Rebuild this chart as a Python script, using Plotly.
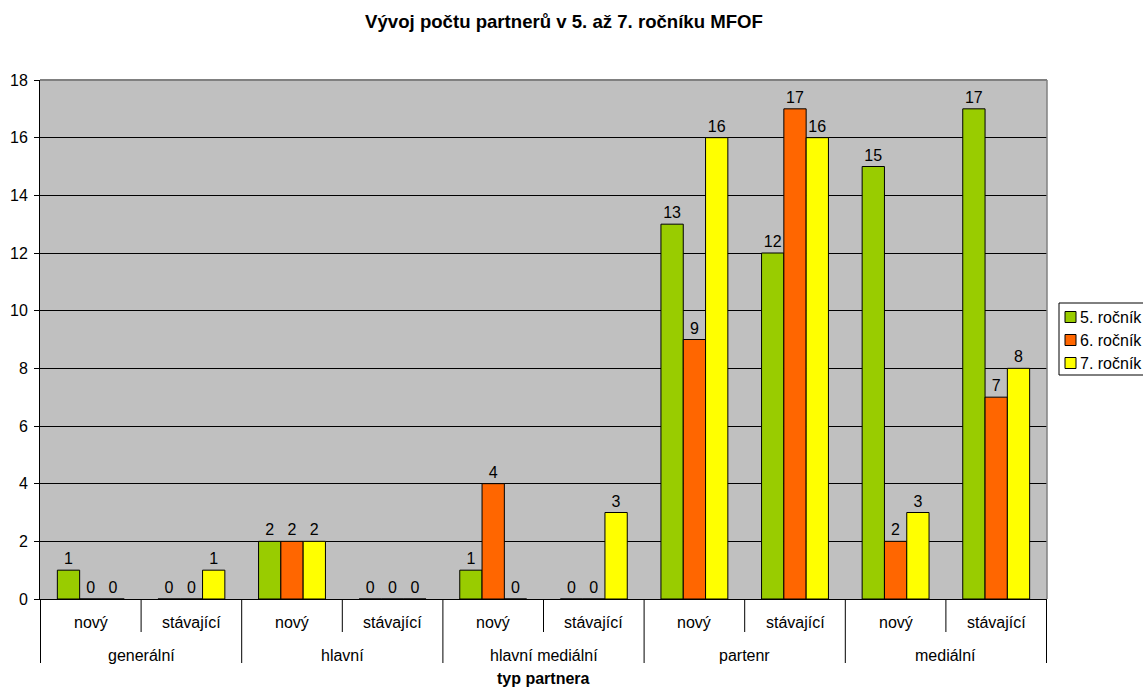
import plotly.graph_objects as go

# Partner types (outer level) and partner status (inner level)
partner_types = ["generální", "generální", "hlavní", "hlavní",
                 "hlavní mediální", "hlavní mediální", "partenr", "partenr",
                 "mediální", "mediální"]
statuses = ["nový", "stávající"] * 5

# Number of partners per year of the event
rocnik5 = [1, 0, 2, 0, 1, 0, 13, 12, 15, 17]
rocnik6 = [0, 0, 2, 0, 4, 0, 9, 17, 2, 7]
rocnik7 = [0, 1, 2, 0, 0, 3, 16, 16, 3, 8]

series_names = ["5. ročník", "6. ročník", "7. ročník"]
series_colors = ["#99CC00", "#FF6600", "#FFFF00"]

FONT = "Liberation Sans, Arial, sans-serif"
FS = 16

W, H = 1143, 689
L, R, T, B = 40, 1047, 80, 599   # plot area edges in pixels


def px(x):
    return (x - L) / (R - L)


def py(y):
    return (B - y) / (B - T)


fig = go.Figure()
for name, vals, col in zip(series_names, [rocnik5, rocnik6, rocnik7], series_colors):
    fig.add_trace(go.Bar(
        x=[partner_types, statuses],
        y=vals,
        name=name,
        marker=dict(color=col, line=dict(color="black", width=1)),
        text=[str(v) for v in vals],
        textposition="outside",
        textfont=dict(family=FONT, size=FS, color="black"),
        cliponaxis=False,
        showlegend=False,
    ))

annotations = []
shapes = []

# inner category labels + short boundary ticks
for i, st in enumerate(statuses):
    annotations.append(dict(x=i, xref="x", y=0, yref="paper", yshift=-23,
                            text=st, showarrow=False, yanchor="middle",
                            font=dict(family=FONT, size=FS, color="black")))
n = len(statuses)
for b in range(n + 1):
    outer = (b % 2 == 0)
    shapes.append(dict(type="line", xref="x", yref="paper",
                       x0=b - 0.5, x1=b - 0.5, y0=0,
                       y1=-(64 if outer else 33) / (B - T),
                       line=dict(color="black", width=1)))

# outer category labels
groups = []
for t in partner_types:
    if t not in groups:
        groups.append(t)
for k, g in enumerate(groups):
    idx = [i for i, t in enumerate(partner_types) if t == g]
    annotations.append(dict(x=sum(idx) / len(idx), xref="x", y=0, yref="paper",
                            yshift=-56, text=g, showarrow=False, yanchor="middle",
                            font=dict(family=FONT, size=FS, color="black")))

# axis title
annotations.append(dict(x=0.5, xref="paper", y=0, yref="paper", yshift=-79,
                        text="<b>typ partnera</b>", showarrow=False, yanchor="middle",
                        font=dict(family=FONT, size=FS, color="black")))

# plot area top / right border
shapes.append(dict(type="line", xref="paper", yref="paper", x0=0, x1=1, y0=1, y1=1,
                   line=dict(color="#808080", width=2)))
shapes.append(dict(type="line", xref="paper", yref="paper", x0=1, x1=1, y0=0, y1=1,
                   line=dict(color="#808080", width=1.5)))

# legend box
shapes.append(dict(type="rect", xref="paper", yref="paper",
                   x0=px(1059), x1=px(1160), y0=py(375), y1=py(303),
                   fillcolor="white", line=dict(color="black", width=1)))
for j, (name, col) in enumerate(zip(series_names, series_colors)):
    yc = 317 + 23 * j
    shapes.append(dict(type="rect", xref="paper", yref="paper",
                       x0=px(1065), x1=px(1076), y0=py(yc + 5.5), y1=py(yc - 5.5),
                       fillcolor=col, line=dict(color="black", width=1)))
    annotations.append(dict(x=px(1078), xref="paper", y=py(yc), yref="paper",
                            xanchor="left", yanchor="middle", text=name,
                            showarrow=False,
                            font=dict(family=FONT, size=FS, color="black")))

fig.update_layout(
    width=W, height=H,
    margin=dict(l=L, r=W - R, t=T, b=H - B, autoexpand=False),
    paper_bgcolor="white",
    plot_bgcolor="#C0C0C0",
    font=dict(family=FONT, size=FS, color="black"),
    title=dict(text="<b>Vývoj počtu partnerů v 5. až 7. ročníku MFOF</b>",
               x=564 / W, xanchor="center", y=1 - 21.7 / H, yanchor="middle",
               font=dict(family=FONT, size=18.6, color="black")),
    barmode="group",
    bargap=0.335,
    bargroupgap=0,
    showlegend=False,
    xaxis=dict(
        type="multicategory",
        showline=True, linecolor="black", linewidth=1,
        ticks="", showticklabels=False, showdividers=False,
        showgrid=False,
        automargin=False,
    ),
    yaxis=dict(
        range=[0, 18], dtick=2, tick0=0,
        showline=True, linecolor="black", linewidth=1,
        ticks="outside", ticklen=5, tickcolor="black",
        ticklabelstandoff=3,
        showgrid=True, gridcolor="black", gridwidth=1,
        zeroline=False,
        tickfont=dict(family=FONT, size=FS, color="black"),
        automargin=False,
    ),
    shapes=shapes,
    annotations=annotations,
)

fig.write_html("out.html")
